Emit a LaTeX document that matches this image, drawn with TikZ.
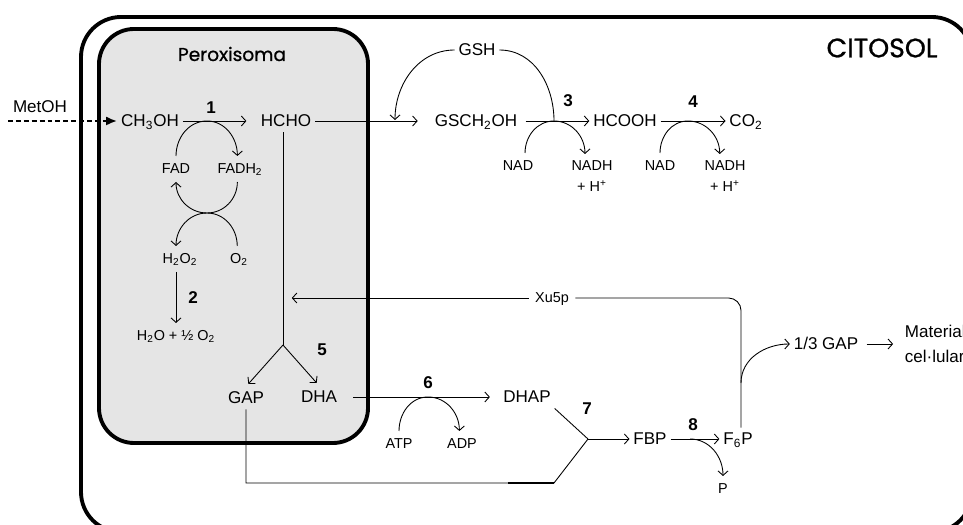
\documentclass[tikz,border=0pt]{standalone}
\usepackage{fontspec}
\setmainfont{Liberation Sans}
\newfontfamily\titlefont{Poppins}[FakeBold=0.8]
\usetikzlibrary{arrows.meta, calc}
\tikzset{
  every picture/.style={x=0.02cm, y=0.02cm, line width=0.5pt},
  chemx/.style={font=\fontsize{9.7}{14}\selectfont, inner sep=2pt},
  chem/.style={chemx, text height=7.5pt, text depth=1pt},
  cofx/.style={font=\fontsize{8.2}{12}\selectfont, inner sep=3.5pt, align=center},
  cof/.style={cofx, text height=6.3pt, text depth=1pt},
  num/.style={font=\fontsize{9.7}{11}\selectfont\bfseries, inner sep=1pt},
  title/.style={font=\titlefont\fontsize{#1}{#1}\selectfont, inner sep=0pt},
  membrane/.style={line width=2.2pt, rounded corners=#1},
  rarrow/.style={-{Straight Barb[length=0.9mm,width=2mm]}},
  metarrow/.style={-{Latex[length=2.2mm,width=1.8mm]}, line width=1.6pt, dash pattern=on 2.8pt off 1.7pt},
}

\begin{document}
\begin{tikzpicture}
  \useasboundingbox (0,0) rectangle (963,524);
  \clip (0,0) rectangle (963,524);
  % compartments
  \draw[membrane=0.8cm] (81,-8) rectangle (972,507);
  \draw[membrane=0.7cm, fill=black!10] (99,81) rectangle (368,495);
  \node[title=10.6] (pero) at (232,470) {Peroxisoma};
  \node[title=15.2] (cito) at (882,476) {CITOSOL};

  % peroxisome: methanol oxidation
  \node[chem] (metoh) at (40,417) {MetOH};
  \node[chem] (ch3oh) at (150,403) {CH\textsubscript{3}OH};
  \node[chem] (hcho) at (286,403) {HCHO};
  \node[cof] (fad) at (176,355) {FAD};
  \node[cof] (fadh) at (240,355) {FADH\textsubscript{2}};
  \node[cof] (h2o2) at (180,265) {H\textsubscript{2}O\textsubscript{2}};
  \node[cof] (o2) at (239,265) {O\textsubscript{2}};
  \node[cof] (water) at (176,188) {H\textsubscript{2}O + ½ O\textsubscript{2}};
  \node[num] (n1) at (211,416) {1};
  \node[num] (n2) at (193,226) {2};
  \coordinate (metin) at (8,403);
  \coordinate (j1) at (207,403);
  \coordinate (j2) at (207,311);
  \draw[metarrow] (metin) -- (ch3oh.west);
  \draw[rarrow, shorten >=6pt] (ch3oh.east) -- (hcho.west);
  \draw[rarrow] (fad.north) to[out=90,in=180] (j1) to[out=0,in=90] ([xshift=-1.5pt]fadh.north);
  \draw[rarrow] ([xshift=-1.5pt]fadh.south) to[out=-90,in=0] (j2) to[out=180,in=-90] (fad.south);
  \draw[rarrow] ([xshift=-1pt]o2.north) to[out=90,in=0] (j2) to[out=180,in=90] (water.north |- h2o2.north);
  \draw[rarrow] (water.north |- h2o2.south) -- (water.north);

  % cytosol: formaldehyde dissimilation
  \node[chem] (gsh) at (477,474) {GSH};
  \node[chem] (gsch) at (476,403) {GSCH\textsubscript{2}OH};
  \node[chem] (hcooh) at (625,403) {HCOOH};
  \node[chem] (co2) at (746,403) {CO\textsubscript{2}};
  \node[cof] (nad3) at (518,358) {NAD};
  \node[cofx, anchor=north] (nadh3) at (592,370) {NADH\\+ H\textsuperscript{+}};
  \node[cof] (nad4) at (660,358) {NAD};
  \node[cofx, anchor=north] (nadh4) at (725,370) {NADH\\+ H\textsuperscript{+}};
  \node[num] (n3) at (568,423) {3};
  \node[num] (n4) at (693,422) {4};
  \coordinate (jg) at (395,404);
  \coordinate (j3) at (554,403);
  \coordinate (j4) at (688,403);
  \draw[rarrow, shorten >=7.5pt] (hcho.east) -- (gsch.west);
  \draw[rarrow] (gsh.west) to[out=180,in=90] (jg);
  \draw (gsh.east) to[out=0,in=90] (j3);
  \draw[rarrow, shorten <=2.5pt] (gsch.east) -- (hcooh.west);
  \draw[rarrow] ([xshift=4pt]nad3.north) to[out=90,in=180] (j3) to[out=0,in=90] ([xshift=-4pt]nadh3.north);
  \draw[rarrow] (hcooh.east) -- (co2.west);
  \draw[rarrow] (nad4.north) to[out=90,in=180] (j4) to[out=0,in=90] ([xshift=-3pt]nadh4.north);

  % assimilation
  \node[chem] (gap) at (246,126) {GAP};
  \node[chem] (dha) at (319,127) {DHA};
  \node[chem] (dhap) at (527,127) {DHAP};
  \node[cof] (atp) at (399,80) {ATP};
  \node[cof] (adp) at (462,80) {ADP};
  \node[chem] (fbp) at (650,85) {FBP};
  \node[chem] (f6p) at (738,85) {F\textsubscript{6}P};
  \node[cof] (pi) at (723,35) {P};
  \node[cof] (xu5p) at (552,226) {Xu5p};
  \node[chem] (gap3) at (826,180) {1/3 GAP};
  \node[chemx, align=left, anchor=west] (cell) at (901,180) {Material\\cel·lular};
  \node[num] (n5) at (322,174) {5};
  \node[num] (n6) at (428,141) {6};
  \node[num] (n7) at (587,115) {7};
  \node[num] (n8) at (693,99) {8};
  \coordinate (j5) at (283,179);
  \coordinate (j6) at (428,127);
  \coordinate (j7) at (588,85);
  \coordinate (j7b) at (554,41);
  \coordinate (j8) at (690,85);
  \coordinate (cx) at (741,226);
  \coordinate (jx) at (741,141);
  \draw (j5 |- hcho.south) -- (j5);
  \draw[rarrow, shorten >=2pt] (j5) -- (gap.north);
  \draw[rarrow, shorten >=2pt] (j5) -- (dha.north);
  \draw[rarrow, shorten <=7pt, shorten >=5.4pt] (dha.east) -- (dhap.west);
  \draw[rarrow] (atp.north) to[out=90,in=180] (j6) to[out=0,in=90] ([xshift=-1.5pt]adp.north);
  \draw (dhap.south east) -- (j7);
  \draw (gap.south) |- (j7b) -- (j7);
  \draw[line width=1.3pt] ($(j7b)+(-46,0)$) -- (j7b);
  \draw[rarrow] (j7) -- (fbp.west);
  \draw[rarrow] (fbp.east) -- (f6p.west);
  \draw[rarrow] (j8) to[out=0,in=90] (pi.north);
  \draw[rounded corners=0.25cm] (cx |- f6p.north) -- (cx) -- (xu5p.east);
  \draw[rarrow, shorten >=5pt] (xu5p.west) -- (xu5p.west -| j5);
  \draw[rarrow] (jx) to[out=90,in=180] (gap3.west);
  \draw[rarrow, shorten <=2.5pt, shorten >=4.5pt] (gap3.east) -- (gap3.east -| cell.west);
\end{tikzpicture}
\end{document}
